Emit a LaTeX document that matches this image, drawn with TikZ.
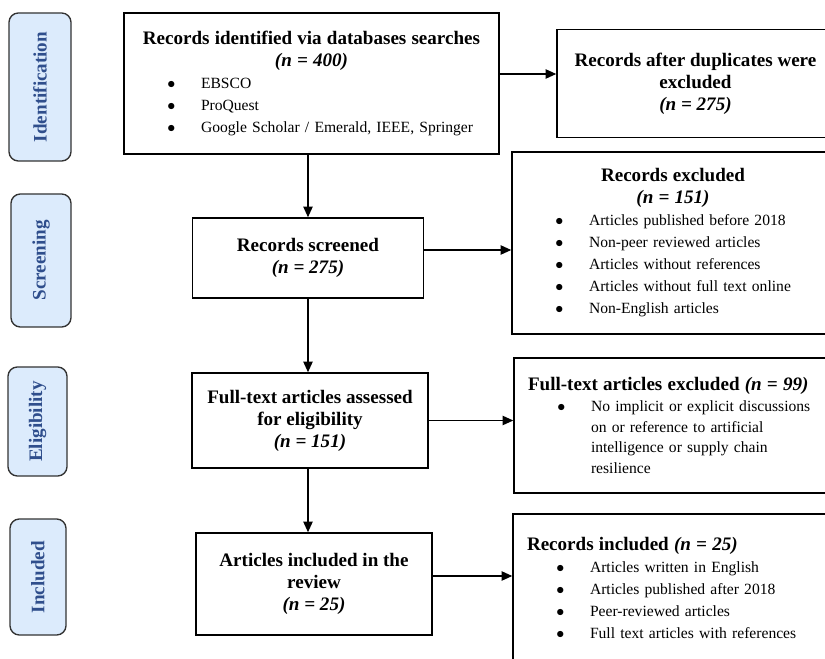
\documentclass[tikz,border=0pt]{standalone}
\usepackage{fontspec}
\setmainfont{Liberation Serif}
\usepackage{xcolor}
\usepackage{tikz}
\usetikzlibrary{arrows.meta,positioning,calc}
\setlength{\parindent}{0pt}
\definecolor{phasefill}{HTML}{DCEBFC}
\definecolor{phasetext}{HTML}{2F4E8C}
\tikzset{
  phase/.style={draw=black!80, line width=1pt, rounded corners=7pt, fill=phasefill, text=phasetext, rotate=90, inner sep=0pt, font=\fontsize{14.3}{16}\selectfont\bfseries},
  stage/.style={draw, line width=1.1pt, align=center, inner sep=0pt, font=\fontsize{14.3}{16.5}\selectfont\bfseries},
  listbox/.style={draw, line width=1.1pt, align=left, inner sep=0pt, font=\fontsize{11.7}{16.5}\selectfont},
  arrow/.style={-{Triangle[length=8pt,width=7pt]}, line width=1pt},
}
\newcommand{\head}[1]{{\fontsize{14.3}{16.5}\selectfont\bfseries #1}}
\newcommand{\bitem}[1]{\par\noindent\hspace*{32.5pt}\makebox[25.25pt][l]{$\bullet$}#1}
\newcommand{\bcont}[1]{\par\noindent\hspace*{57.75pt}#1}

\begin{document}
\begin{tikzpicture}[x=0.75pt,y=-0.75pt]
\useasboundingbox (0,0) rectangle (825,659);
% phases
\node[phase, minimum width=111pt, minimum height=46.5pt] (idlab) at (40,87) {Identification};
\node[phase, minimum width=99.75pt, minimum height=45pt] (scrlab) at (41,260.5) {Screening};
\node[phase, minimum width=81.75pt, minimum height=44.25pt] (eliglab) at (37.5,421.5) {Eligibility};
\node[phase, minimum width=87pt, minimum height=42pt] (incllab) at (38,577) {Included};
% main column
\node[listbox, text width=281.25pt, minimum height=105.75pt] (ident) at (311.5,83.5) {%
  {\centering\head{Records identified via databases searches}\\ \head{\itshape (n = 400)}\par}
  \bitem{EBSCO}
  \bitem{ProQuest}
  \bitem{Google Scholar / Emerald, IEEE, Springer}};
\node[stage, minimum width=173.25pt, minimum height=60pt] (screen) at (308,258) {Records screened\\ \textit{(n = 275)}};
\node[stage, minimum width=177pt, minimum height=71.25pt] (assess) at (310,420.5) {Full-text articles assessed\\ for eligibility\\ \textit{(n = 151)}};
\node[stage, minimum width=177pt, minimum height=76.5pt] (incl) at (314,584) {Articles included in the\\ review\\ \textit{(n = 25)}};
% right column
\node[stage, minimum width=207.75pt, minimum height=81pt] (dupl) at (695.5,83.5) {Records after duplicates were\\ excluded\\ \textit{(n = 275)}};
\node[listbox, text width=241.5pt, minimum height=136.5pt] (excl) at (673,243) {%
  {\centering\head{Records excluded}\\ \head{\itshape (n = 151)}\par}
  \bitem{Articles published before 2018}
  \bitem{Non-peer reviewed articles}
  \bitem{Articles without references}
  \bitem{Articles without full text online}
  \bitem{Non-English articles}};
\node[listbox, text width=240pt, minimum height=101.25pt, font=\fontsize{11.7}{15.5}\selectfont] (ftexcl) at (674,425.5) {%
  \hspace*{10.5pt}\head{Full-text articles excluded \itshape (n = 99)}
  \bitem{No implicit or explicit discussions}
  \bcont{on or reference to artificial}
  \bcont{intelligence or supply chain}
  \bcont{resilience}};
\node[listbox, text width=240.75pt, minimum height=111pt] (recincl) at (673.5,588) {%
  \hspace*{10.5pt}\head{Records included \itshape (n = 25)}
  \bitem{Articles written in English}
  \bitem{Articles published after 2018}
  \bitem{Peer-reviewed articles}
  \bitem{Full text articles with references}};
% arrows
\draw[arrow] (ident.south -| screen.north) -- (screen.north);
\draw[arrow] (screen.south) -- (screen.south |- assess.north);
\draw[arrow] (screen.south |- assess.south) -- (screen.south |- incl.north);
\draw[arrow] ($(ident.east)+(0,-9.5)$) -- ($(ident.east -| dupl.west)+(0,-9.5)$);
\draw[arrow] ($(screen.east)+(0,-8)$) -- ($(screen.east -| excl.west)+(0,-8)$);
\draw[arrow] (assess.east) -- (assess.east -| ftexcl.west);
\draw[arrow] ($(incl.east)+(0,-8)$) -- ($(incl.east -| recincl.west)+(0,-8)$);
\end{tikzpicture}
\end{document}
